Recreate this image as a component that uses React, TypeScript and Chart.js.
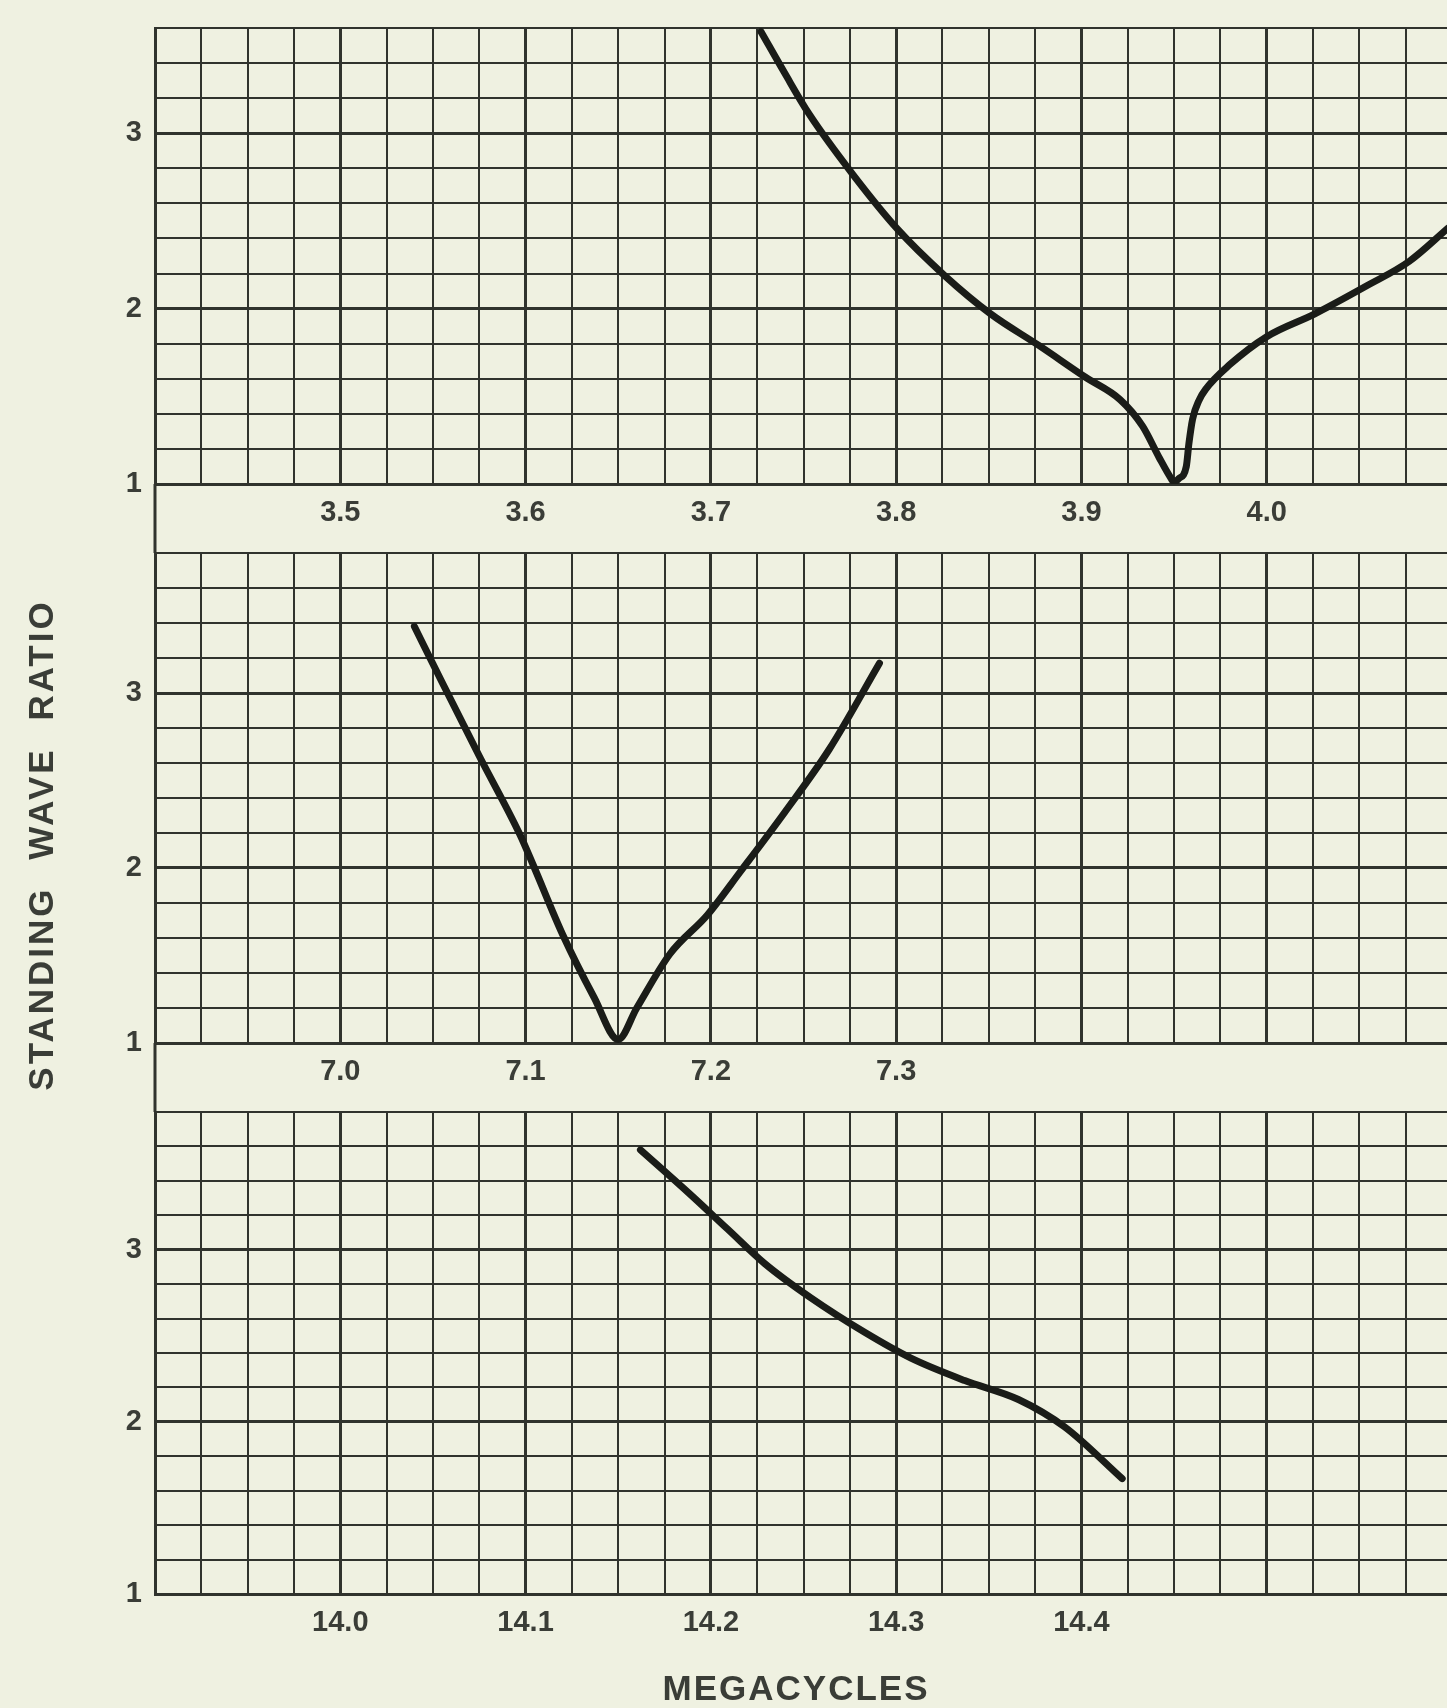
import React, { useEffect, useRef } from 'react';
import { Chart, registerables } from 'chart.js';

Chart.register(...registerables);

// ---- data ----
const band80Freq = [3.727, 3.74, 3.753, 3.777, 3.801, 3.826, 3.851, 3.877, 3.902, 3.921, 3.933, 3.942, 3.9485, 3.95, 3.9525, 3.9566, 3.958, 3.96, 3.9636, 3.967, 3.98, 4.0, 4.026, 4.054, 4.077, 4.098];
const band80Swr = [3.58, 3.34, 3.11, 2.76, 2.45, 2.19, 1.97, 1.79, 1.61, 1.48, 1.33, 1.15, 1.03, 1.01, 1.03, 1.1, 1.23, 1.37, 1.48, 1.54, 1.68, 1.84, 1.97, 2.13, 2.27, 2.46];

const band40Freq = [7.04, 7.055, 7.075, 7.097, 7.104, 7.12, 7.137, 7.15, 7.16, 7.178, 7.198, 7.216, 7.24, 7.264, 7.291];
const band40Swr = [3.38, 3.06, 2.64, 2.19, 2.02, 1.62, 1.26, 1.02, 1.2, 1.51, 1.73, 1.98, 2.32, 2.68, 3.17];

const band20Freq = [14.162, 14.188, 14.209, 14.229, 14.254, 14.283, 14.308, 14.337, 14.366, 14.391, 14.422];
const band20Swr = [3.58, 3.33, 3.12, 2.92, 2.72, 2.52, 2.37, 2.24, 2.13, 1.97, 1.67];

const band80Labels = ['3.5', '3.6', '3.7', '3.8', '3.9', '4.0'];
const band40Labels = ['7.0', '7.1', '7.2', '7.3'];
const band20Labels = ['14.0', '14.1', '14.2', '14.3', '14.4'];
const swrLabels = ['1', '2', '3'];

const yAxisTitle = 'STANDING WAVE RATIO';
const xAxisTitle = 'MEGACYCLES';

// ---- style ----
const BG = '#eff1e1';
const GRID = '#30332d';
const INK = '#1a1c18';
const TEXT = '#3a3d37';
const FONT = '"Liberation Sans", Arial, sans-serif';
const CANVAS_W = 1453;

type PanelCfg = {
  freq: number[];
  swr: number[];
  labels: string[];
  xMin: number;
  xMax: number;
  yMax: number;
  top: number;
  h: number;
  padTop: number;
  xAxisH: number;
  extendUp: boolean;
  extendDown: boolean;
  yTitle?: { x: number; y: number };
  xTitle?: { x: number; y: number };
};

const near = (a: number, b: number) => Math.abs(a - b) < 1e-6;

function makeChart(canvas: HTMLCanvasElement, cfg: PanelCfg) {
  const decor = {
    id: 'decor',
    afterDraw(chart: any) {
      const { ctx, chartArea } = chart;
      ctx.save();
      ctx.strokeStyle = GRID;
      ctx.lineWidth = 3;
      ctx.beginPath();
      if (cfg.extendUp) {
        ctx.moveTo(chartArea.left, 0);
        ctx.lineTo(chartArea.left, chartArea.top);
      }
      if (cfg.extendDown) {
        ctx.moveTo(chartArea.left, chartArea.bottom);
        ctx.lineTo(chartArea.left, chart.height);
      }
      ctx.stroke();
      ctx.fillStyle = TEXT;
      if (cfg.yTitle) {
        ctx.save();
        ctx.translate(cfg.yTitle.x, cfg.yTitle.y);
        ctx.rotate(-Math.PI / 2);
        ctx.font = `bold 35px ${FONT}`;
        (ctx as any).letterSpacing = '3px';
        (ctx as any).wordSpacing = '14px';
        ctx.textAlign = 'center';
        ctx.textBaseline = 'middle';
        ctx.fillText(yAxisTitle, 0, 0);
        ctx.restore();
      }
      if (cfg.xTitle) {
        ctx.font = `bold 35px ${FONT}`;
        (ctx as any).letterSpacing = '2px';
        ctx.textAlign = 'center';
        ctx.textBaseline = 'middle';
        ctx.fillText(xAxisTitle, cfg.xTitle.x, cfg.xTitle.y);
      }
      ctx.restore();
    },
  };

  return new Chart(canvas, {
    type: 'line',
    data: {
      datasets: [
        {
          data: cfg.freq.map((f, i) => ({ x: f, y: cfg.swr[i] })),
          borderColor: INK,
          borderWidth: 7,
          pointRadius: 0,
          cubicInterpolationMode: 'monotone',
          borderCapStyle: 'round',
          borderJoinStyle: 'round',
          fill: false,
        },
      ],
    },
    options: {
      animation: false,
      responsive: false,
      devicePixelRatio: 1,
      layout: { padding: { top: cfg.padTop, left: 0, right: 1, bottom: 0 } },
      plugins: { legend: { display: false }, tooltip: { enabled: false } },
      scales: {
        x: {
          type: 'linear',
          min: cfg.xMin,
          max: cfg.xMax,
          afterFit: (s: any) => {
            s.height = cfg.xAxisH;
            s.paddingLeft = 0;
            s.paddingRight = 0;
            s.paddingTop = 0;
            s.paddingBottom = 0;
          },
          border: { display: true, color: GRID, width: 3 },
          grid: {
            color: GRID,
            drawTicks: false,
            lineWidth: (c: any) => {
              const v = c.tick ? c.tick.value : null;
              if (v == null) return 2;
              return near(v * 10, Math.round(v * 10)) ? 3 : 2;
            },
          },
          ticks: {
            stepSize: 0.025,
            autoSkip: false,
            maxRotation: 0,
            minRotation: 0,
            padding: 12,
            color: TEXT,
            font: { family: FONT, size: 29, weight: 'bold' },
            callback: (v: any) => {
              const n = Number(v);
              const hit = cfg.labels.find((l) => near(parseFloat(l), n));
              return hit ?? '';
            },
          },
        },
        y: {
          type: 'linear',
          min: 1,
          max: cfg.yMax,
          afterFit: (s: any) => {
            s.width = 155;
            s.paddingLeft = 0;
            s.paddingRight = 0;
            s.paddingTop = 0;
            s.paddingBottom = 0;
          },
          border: { display: true, color: GRID, width: 3 },
          grid: {
            color: GRID,
            drawTicks: false,
            lineWidth: (c: any) => {
              const v = c.tick ? c.tick.value : null;
              if (v == null) return 2;
              return near(v, Math.round(v)) ? 3 : 2;
            },
          },
          ticks: {
            stepSize: 0.2,
            autoSkip: false,
            padding: 13,
            color: TEXT,
            font: { family: FONT, size: 29, weight: 'bold' },
            callback: (v: any) => {
              const n = Number(v);
              const hit = swrLabels.find((l) => near(parseFloat(l), n));
              return hit ?? '';
            },
          },
        },
      },
    },
    plugins: [decor],
  } as any);
}

const panels: PanelCfg[] = [
  {
    freq: band80Freq, swr: band80Swr, labels: band80Labels,
    xMin: 3.4, xMax: 4.1, yMax: 3.6,
    top: 0, h: 540, padTop: 28, xAxisH: 56,
    extendUp: false, extendDown: true,
  },
  {
    freq: band40Freq, swr: band40Swr, labels: band40Labels,
    xMin: 6.9, xMax: 7.6, yMax: 3.8,
    top: 540, h: 560, padTop: 13, xAxisH: 57,
    extendUp: true, extendDown: true,
    yTitle: { x: 43, y: 305 },
  },
  {
    freq: band20Freq, swr: band20Swr, labels: band20Labels,
    xMin: 13.9, xMax: 14.6, yMax: 3.8,
    top: 1100, h: 608, padTop: 12, xAxisH: 114,
    extendUp: true, extendDown: false,
    xTitle: { x: 796, y: 590 },
  },
];

function Panel({ cfg }: { cfg: PanelCfg }) {
  const ref = useRef<HTMLCanvasElement>(null);
  useEffect(() => {
    if (!ref.current) return;
    const chart = makeChart(ref.current, cfg);
    return () => chart.destroy();
  }, [cfg]);
  return (
    <canvas
      ref={ref}
      width={CANVAS_W}
      height={cfg.h}
      style={{ position: 'absolute', left: 0, top: cfg.top, width: CANVAS_W, height: cfg.h, display: 'block' }}
    />
  );
}

export default function App() {
  return (
    <div
      style={{
        position: 'absolute',
        left: 0,
        top: 0,
        width: 1447,
        height: 1708,
        overflow: 'hidden',
        background: BG,
      }}
    >
      {panels.map((p, i) => (
        <Panel key={i} cfg={p} />
      ))}
    </div>
  );
}
